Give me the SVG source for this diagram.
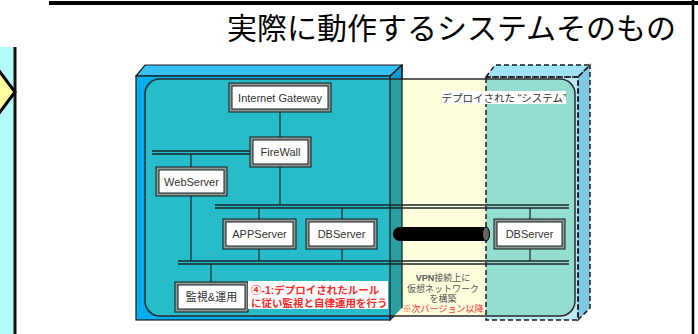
<svg xmlns="http://www.w3.org/2000/svg" width="698" height="334" viewBox="0 0 698 334">
<style>
.ln{stroke:#1a2626;stroke-width:1.2;fill:none}
.bus{stroke:#1a2626;stroke-width:1.3;fill:none}
.nodeo{fill:#8c9a9a;stroke:#1a1a1a;stroke-width:1}
.nodei{fill:#fff;stroke:#1a1a1a;stroke-width:1}
.nt{font-family:"Liberation Sans",Arial,sans-serif;font-size:11px;fill:#333;text-anchor:middle}
.jt{font-family:"Liberation Sans","Noto Sans CJK JP",sans-serif;fill:#333}
.edge{stroke:#1a1a1a;stroke-width:1.2}
.dash{stroke:#1a1a1a;stroke-width:1.5;stroke-dasharray:5 3;fill:none}
</style>
<defs>
<clipPath id="rr"><rect x="145" y="79" width="430" height="237" rx="15"/></clipPath>
</defs>
<rect width="698" height="334" fill="#fff"/>
<g id="left-panel">
<rect x="0" y="47" width="15" height="287" fill="#b4fcfa"/>
<polygon points="-20,92 0,72 15,92 0,112" fill="#ffffa0" stroke="#000" stroke-width="3"/>
<line x1="15" y1="47" x2="15" y2="334" stroke="#111" stroke-width="3"/>
</g>
<g id="frame">
<line x1="49" y1="3" x2="698" y2="3" stroke="#000" stroke-width="4"/>
<line x1="693" y1="0" x2="693" y2="334" stroke="#000" stroke-width="2.5"/>
</g>
<text x="227" y="39" font-family="'Noto Sans CJK JP',sans-serif" font-size="30" fill="#000">実際に動作するシステムそのもの</text>
<g id="blue-box">
<polygon points="136,76 145,65 402,65 390,76" fill="#35bff2" class="edge"/>
<polygon points="390,76 402,65 402,308 390,320" fill="#0b9bd2" class="edge"/>
<rect x="136" y="76" width="254" height="244" fill="#03aeee" class="edge"/>
</g>
<g id="dashed-box">
<polygon points="486,77 495,65 590,65 578,77" fill="#a0e2f7"/>
<polygon points="578,77 590,65 590,308 578,320" fill="#80c8e4"/>
<rect x="486" y="77" width="92" height="243" fill="#bfe9f7"/>
</g>
<g id="system-area">
<rect x="145" y="79" width="430" height="237" rx="15" fill="#fffedc"/>
<g clip-path="url(#rr)">
<rect x="136" y="76" width="254" height="244" fill="#26bcca"/>
<polygon points="390,76 402,65 402,308 390,320" fill="#2a9ea0"/>
<rect x="486" y="77" width="92" height="243" fill="#94ded1"/>
</g>
<rect x="145" y="79" width="430" height="237" rx="15" fill="none" stroke="#2a2a2a" stroke-width="1.5"/>
<line x1="390" y1="76" x2="390" y2="320" class="edge"/>
<line x1="402" y1="65" x2="402" y2="308" class="edge"/>
<polygon points="486,77 495,65 590,65 578,77" class="dash"/>
<polygon points="578,77 590,65 590,308 578,320" class="dash"/>
<rect x="486" y="77" width="92" height="243" class="dash"/>
<rect x="442" y="91" width="124" height="13" fill="#fff"/>
<text x="504" y="101.5" class="jt" font-size="10.5" text-anchor="middle">デプロイされた “システム”</text>
</g>
<g id="connectors">
<line x1="152" y1="151" x2="250" y2="151" class="bus"/>
<line x1="152" y1="154" x2="250" y2="154" class="bus"/>
<line x1="215" y1="205" x2="569" y2="205" class="bus"/>
<line x1="215" y1="208" x2="569" y2="208" class="bus"/>
<line x1="178" y1="261" x2="569" y2="261" class="bus"/>
<line x1="178" y1="264" x2="569" y2="264" class="bus"/>
<line x1="280" y1="112" x2="280" y2="137" class="ln"/>
<line x1="280" y1="167" x2="280" y2="205" class="ln"/>
<line x1="191" y1="154" x2="191" y2="167" class="ln"/>
<line x1="191" y1="196" x2="191" y2="261" class="ln"/>
<line x1="259" y1="208" x2="259" y2="219" class="ln"/>
<line x1="259" y1="249" x2="259" y2="261" class="ln"/>
<line x1="342" y1="208" x2="342" y2="219" class="ln"/>
<line x1="342" y1="249" x2="342" y2="261" class="ln"/>
<line x1="211" y1="264" x2="211" y2="282" class="ln"/>
<line x1="530" y1="208" x2="530" y2="219" class="ln"/>
<line x1="530" y1="249" x2="530" y2="261" class="ln"/>
</g>
<g id="vpn-tube">
<rect x="393" y="227" width="97" height="14" rx="7" fill="#000"/>
<ellipse cx="486" cy="234" rx="3.5" ry="7" fill="#666" stroke="#000" stroke-width="1"/>
</g>
<g id="internet-gateway">
<rect x="229" y="83" width="102" height="29" class="nodeo"/>
<rect x="232" y="86" width="96" height="23" class="nodei"/>
<text x="280" y="101.5" class="nt">Internet Gateway</text>
</g>
<g id="firewall">
<rect x="250" y="137" width="61" height="30" class="nodeo"/>
<rect x="253" y="140" width="55" height="24" class="nodei"/>
<text x="280.5" y="156" class="nt">FireWall</text>
</g>
<g id="webserver">
<rect x="156" y="167" width="71" height="29" class="nodeo"/>
<rect x="159" y="170" width="65" height="23" class="nodei"/>
<text x="191.5" y="185.5" class="nt">WebServer</text>
</g>
<g id="appserver">
<rect x="223" y="219" width="73" height="30" class="nodeo"/>
<rect x="226" y="222" width="67" height="24" class="nodei"/>
<text x="259.5" y="238" class="nt">APPServer</text>
</g>
<g id="dbserver-left">
<rect x="306" y="219" width="71" height="30" class="nodeo"/>
<rect x="309" y="222" width="65" height="24" class="nodei"/>
<text x="341.5" y="238" class="nt">DBServer</text>
</g>
<g id="dbserver-right">
<rect x="494" y="219" width="71" height="30" class="nodeo"/>
<rect x="497" y="222" width="65" height="24" class="nodei"/>
<text x="529.5" y="238" class="nt">DBServer</text>
</g>
<g id="monitoring">
<rect x="175" y="282" width="73" height="30" class="nodeo"/>
<rect x="178" y="285" width="67" height="24" class="nodei"/>
<text x="211.5" y="301" class="jt" font-size="11" text-anchor="middle">監視&amp;運用</text>
</g>
<g id="rule-note">
<rect x="248" y="281" width="140" height="28" fill="#fff"/>
<text x="251" y="294" class="jt" font-size="10.5" font-weight="bold" fill="#ff2a2a" style="fill:#ff2a2a">④-1:デプロイされたルール</text>
<text x="251" y="306.5" class="jt" font-size="10.5" font-weight="bold" style="fill:#ff2a2a">に従い監視と自律運用を行う</text>
</g>
<g id="vpn-note">
<text x="443" y="281" class="jt" font-size="9" text-anchor="middle" style="fill:#555"><tspan font-weight="bold">VPN</tspan>接続上に</text>
<text x="443" y="291.5" class="jt" font-size="9" text-anchor="middle" style="fill:#555">仮想ネットワーク</text>
<text x="443" y="302" class="jt" font-size="9" text-anchor="middle" style="fill:#555">を構築</text>
<text x="443" y="312" class="jt" font-size="9" text-anchor="middle" style="fill:#ff3030">※次バージョン以降</text>
</g>
</svg>
